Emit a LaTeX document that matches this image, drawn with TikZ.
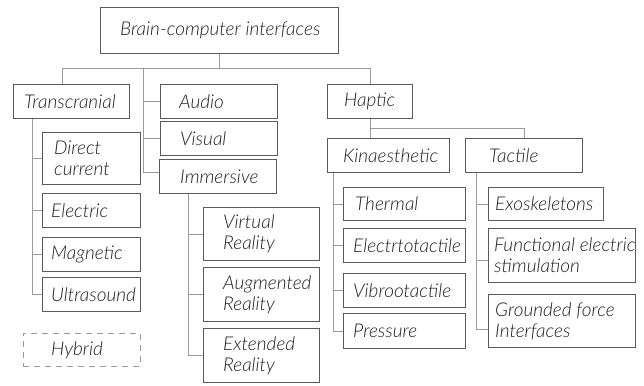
\documentclass[tikz,border=0pt]{standalone}
\usepackage{fontspec}
\setmainfont{Lato Light Italic}
\definecolor{boxc}{HTML}{5A5A5A}
\definecolor{linec}{HTML}{9A9A9A}
\definecolor{textc}{HTML}{1E1E1E}
\tikzset{
  box/.style={draw=boxc,line width=0.8pt,rectangle,inner sep=0pt},
  txt/.style={inner sep=0pt,align=left,text=textc,font=\fontsize{19}{21}\selectfont},
  conn/.style={draw=linec,line width=0.8pt},
  hyb/.style={dashed,draw=linec,dash pattern=on 6pt off 5pt},
}
\newcommand\bx[8][]{%
  \node[box,#1,minimum width=#5pt,minimum height=#6pt,anchor=north west] (#2) at (#3,#4) {};
  \node[txt,anchor=west] (#2-t) at ([xshift=#7pt]#2.west) {#8};
}
\begin{document}
\begin{tikzpicture}[x=1pt,y=-1pt]
\useasboundingbox (0,0) rectangle (644,385);
\bx{bci}{100}{7}{238}{46}{20}{Brain-computer interfaces}
\bx{trans}{13}{84}{116}{34}{11}{Transcranial}
\bx{audio}{160}{84}{117}{34}{19}{Audio}
\bx{visual}{160}{121}{117}{34}{20}{Visual}
\bx{immers}{159}{159}{117}{34}{21}{Immersive}
\bx{direct}{42}{132}{98}{52}{12}{Direct\\current}
\bx{electric}{42}{193}{98}{34}{9}{Electric}
\bx{magnetic}{42}{237}{98}{34}{9}{Magnetic}
\bx{ultra}{42}{277}{98}{34}{9}{Ultrasound}
\bx[hyb]{hybrid}{23}{333}{117}{33}{28}{Hybrid}
\bx{vr}{203}{207}{116}{53}{20}{Virtual\\Reality}
\bx{ar}{203}{267}{116}{54}{20}{Augmented\\Reality}
\bx{er}{203}{328}{116}{54}{20}{Extended\\Reality}
\bx{haptic}{327}{84}{85}{34}{17}{Haptic}
\bx{kin}{327}{138}{122}{34}{16}{Kinaesthetic}
\bx{tact}{465}{138}{117}{34}{24}{Tactile}
\bx{thermal}{343}{187}{122}{33}{12}{Thermal}
\bx{electro}{343}{228}{122}{34}{10}{Electrtotactile}
\bx{vibro}{343}{273}{122}{34}{10}{Vibrootactile}
\bx{pressure}{343}{313}{122}{35}{10}{Pressure}
\bx{exo}{488}{187}{115}{33}{7}{Exoskeletons}
\bx{fes}{488}{228}{147}{54}{6}{Functional electric\\stimulation}
\bx{gfi}{488}{294}{147}{53}{7}{Grounded force\\Interfaces}
% connectors
\coordinate (bus) at (0,68);
\coordinate (hb) at (0,128);
\coordinate (sp1) at (143,68);
\draw[conn] (bci.south) -- (bci.south |- bus);
\draw[conn] ([xshift=-9pt]trans.north) -- ([xshift=-9pt]trans.north |- bus) -- (haptic.north |- bus) -- (haptic.north);
\draw[conn] (sp1) |- (audio.west);
\draw[conn] (sp1) |- (visual.west);
\draw[conn] (sp1) |- ([yshift=4pt]immers.west);
\coordinate (ts) at ([xshift=19pt]trans.south west);
\draw[conn] (ts) |- (direct.west);
\draw[conn] (ts) |- (electric.west);
\draw[conn] (ts) |- (magnetic.west);
\draw[conn] (ts) |- (ultra.west);
\coordinate (is) at ([xshift=29pt]immers.south west);
\draw[conn] (is) |- (vr.west);
\draw[conn] (is) |- (ar.west);
\draw[conn] (is) |- (er.west);
\draw[conn] (haptic.south) -- (haptic.south |- kin.north);
\draw[conn] (haptic.south |- hb) -| (tact.north);
\coordinate (ks) at ([xshift=6pt]kin.south west);
\draw[conn] (ks) |- (thermal.west);
\draw[conn] (ks) |- (electro.west);
\draw[conn] (ks) |- (vibro.west);
\draw[conn] (ks) |- (pressure.west);
\coordinate (tks) at ([xshift=11pt]tact.south west);
\draw[conn] (tks) |- (exo.west);
\draw[conn] (tks) |- ([yshift=-5pt]fes.west);
\draw[conn] (tks) |- ([yshift=-8.5pt]gfi.west);
\end{tikzpicture}
\end{document}
